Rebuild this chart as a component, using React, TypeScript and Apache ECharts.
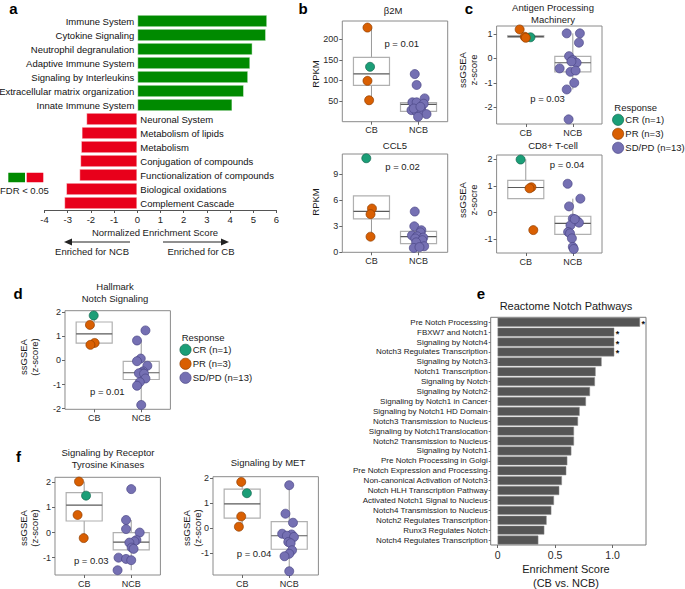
import React, { useEffect, useRef } from 'react';
import * as echarts from 'echarts';

const FONT = 'Liberation Sans, Arial, Helvetica, sans-serif';

// ---------- Panel a: GSEA ----------
const gseaPathways = [
  'Immune System', 'Cytokine Signaling', 'Neutrophil degranulation', 'Adaptive Immune System',
  'Signaling by Interleukins', 'Extracellular matrix organization', 'Innate Immune System',
  'Neuronal System', 'Metabolism of lipids', 'Metabolism', 'Conjugation of compounds',
  'Functionalization of compounds', 'Biological oxidations', 'Complement Cascade',
];
const gseaNES = [5.6, 5.55, 4.97, 4.87, 4.78, 4.6, 4.1, -2.2, -2.4, -2.43, -2.46, -2.5, -3.07, -3.15];

// ---------- Panel e: Reactome Notch ----------
const notchPathways = [
  'Pre Notch Processing', 'FBXW7 and Notch1', 'Signaling by Notch4', 'Notch3 Regulates Transcription',
  'Signaling by Notch3', 'Notch1 Transcription', 'Signaling by Notch', 'Signaling by Notch2',
  'Signaling by Notch1 in Cancer', 'Signaling by Notch1 HD Domain', 'Notch3 Transmission to Nucleus',
  'Signaling by Notch1Translocation', 'Notch2 Transmission to Nucleus', 'Signaling by Notch1',
  'Pre Notch Processing in Golgi', 'Pre Notch Expression and Processing', 'Non-canonical Activation of Notch3',
  'Notch HLH Transcription Pathway', 'Activated Notch1 Signal to Nucleus', 'Notch4 Transmission to Nucleus',
  'Notch2 Regulates Transcription', 'Runx3 Regulates Notch', 'Notch4 Regulates Transcription',
];
const notchES = [1.238, 1.014, 1.014, 1.014, 0.904, 0.852, 0.846, 0.803, 0.768, 0.713, 0.699, 0.664, 0.664,
  0.641, 0.606, 0.597, 0.559, 0.536, 0.49, 0.467, 0.426, 0.406, 0.354];
const notchSignificant = [true, true, true, true, false, false, false, false, false, false, false, false,
  false, false, false, false, false, false, false, false, false, false, false];
const notchTicks = [0, 0.5, 1];

// ---------- Box plots: [jitter x, value, response] ----------
const groupLabels = ['CB', 'NCB'];
const b2mPoints = [
  [0.915, 228, 'PR'], [0.97, 133, 'CR'], [0.915, 99, 'PR'], [0.95, 52, 'PR'],
  [1.92, 115.5, 'SD'], [1.96, 89, 'SD'], [1.87, 47, 'SD'], [1.96, 47, 'SD'], [2.13, 56.5, 'SD'],
  [2.11, 43.5, 'SD'], [1.85, 28, 'SD'], [1.96, 24, 'SD'], [2.06, 28, 'SD'], [2.17, 18.4, 'SD'],
  [1.99, 12, 'SD'], [1.9, 32, 'SD'], [2.04, 36, 'SD'],
];
const b2mBoxes = [[1, 52, 88, 116, 156, 228], [2, 12, 25, 42, 46, 56.5]];
const b2mTicks = [50, 100, 150, 200];

const ccl5Points = [
  [0.89, 10.85, 'CR'], [1.01, 5.05, 'PR'], [0.98, 4.4, 'PR'], [0.98, 1.8, 'PR'],
  [1.92, 4.7, 'SD'], [1.91, 3.0, 'SD'], [2.06, 2.55, 'SD'], [2.04, 2.3, 'SD'], [1.86, 1.95, 'SD'],
  [1.97, 1.85, 'SD'], [2.1, 1.7, 'SD'], [1.93, 1.6, 'SD'], [2.08, 1.4, 'SD'], [1.95, 1.15, 'SD'],
  [2.12, 0.7, 'SD'], [1.9, 0.5, 'SD'], [2.02, 0.6, 'SD'],
];
const ccl5Boxes = [[1, 1.8, 3.85, 4.73, 6.5, 6.5], [2, 0.5, 1.0, 1.8, 2.42, 3.0]];
const ccl5Ticks = [0, 3, 6, 9];

const apmPoints = [
  [0.87, 1.18, 'PR'], [0.98, 0.88, 'PR'], [1.0, 0.84, 'PR'], [1.1, 0.86, 'CR'],
  [1.87, 1.02, 'SD'], [2.15, 1.02, 'SD'], [2.13, 0.64, 'SD'], [1.92, 0.09, 'SD'], [2.0, -0.07, 'SD'],
  [2.08, -0.18, 'SD'], [1.97, -0.13, 'SD'], [1.72, -0.41, 'SD'], [1.95, -0.55, 'SD'], [2.06, -0.5, 'SD'],
  [2.03, -1.0, 'SD'], [1.87, -1.27, 'SD'], [1.91, -2.49, 'SD'],
];
const apmBoxes = [[1, 0.86, 0.86, 0.89, 0.93, 0.93], [2, -1.27, -0.55, -0.18, 0.08, 1.02]];
const apmTicks = [-2, -1, 0, 1];

const cd8Points = [
  [0.89, 1.99, 'CR'], [1.12, 0.95, 'PR'], [1.08, 0.91, 'PR'], [1.16, -0.66, 'PR'],
  [1.89, 1.08, 'SD'], [2.16, 0.52, 'SD'], [1.92, 0.23, 'SD'], [2.0, -0.23, 'SD'], [2.08, -0.3, 'SD'],
  [2.13, -0.38, 'SD'], [1.95, -0.48, 'SD'], [1.9, -0.73, 'SD'], [1.94, -0.78, 'SD'], [1.98, -0.97, 'SD'],
  [2.0, -1.29, 'SD'], [2.02, -1.37, 'SD'], [2.04, -0.25, 'SD'],
];
const cd8Boxes = [[1, 0.52, 0.52, 0.94, 1.21, 2.0], [2, -1.37, -0.82, -0.41, -0.14, 0.52]];
const cd8Ticks = [-1, 0, 1, 2];

const hallmarkPoints = [
  [0.99, 1.87, 'CR'], [0.91, 1.48, 'PR'], [1.01, 0.73, 'PR'], [0.92, 0.65, 'PR'],
  [2.09, 1.25, 'SD'], [1.91, 0.83, 'SD'], [1.99, 0.08, 'SD'], [1.91, -0.03, 'SD'], [2.13, -0.22, 'SD'],
  [2.04, -0.45, 'SD'], [2.02, -0.5, 'SD'], [1.95, -0.53, 'SD'], [2.06, -0.55, 'SD'], [2.09, -0.75, 'SD'],
  [1.97, -0.9, 'SD'], [1.91, -1.05, 'SD'], [2.0, -1.85, 'SD'],
];
const hallmarkBoxes = [[1, 0.65, 0.72, 1.11, 1.6, 1.87], [2, -1.85, -0.79, -0.51, -0.04, 0.85]];
const hallmarkTicks = [-2, -1, 0, 1, 2];

const rtkPoints = [
  [0.89, 2.03, 'PR'], [1.04, 1.47, 'CR'], [0.86, 0.7, 'PR'], [0.99, -0.22, 'PR'],
  [2.0, 1.73, 'SD'], [1.89, 0.5, 'SD'], [1.89, 0.14, 'SD'], [2.18, 0.0, 'SD'], [2.11, -0.3, 'SD'],
  [2.07, -0.35, 'SD'], [1.96, -0.4, 'SD'], [2.01, -0.6, 'SD'], [2.05, -0.65, 'SD'], [1.73, -1.0, 'SD'],
  [1.89, -1.05, 'SD'], [2.0, -1.1, 'SD'], [1.71, -1.5, 'SD'],
];
const rtkBoxes = [[1, -0.22, 0.46, 1.09, 1.59, 2.03], [2, -1.5, -0.69, -0.38, 0.0, 0.5]];
const rtkTicks = [-1, 0, 1, 2];

const metPoints = [
  [0.98, 1.85, 'PR'], [1.1, 1.4, 'CR'], [0.98, 0.47, 'PR'], [0.93, 0.06, 'PR'],
  [2.0, 1.72, 'SD'], [1.92, 0.58, 'SD'], [2.08, 0.22, 'SD'], [1.85, -0.22, 'SD'], [2.05, -0.25, 'SD'],
  [1.95, -0.3, 'SD'], [2.1, -0.35, 'SD'], [1.98, -0.55, 'SD'], [2.03, -0.6, 'SD'], [2.06, -0.88, 'SD'],
  [2.0, -1.02, 'SD'], [1.9, -1.12, 'SD'], [2.0, -1.72, 'SD'],
];
const metBoxes = [[1, 0.06, 0.4, 0.97, 1.56, 1.85], [2, -1.72, -0.84, -0.3, 0.26, 1.72]];
const metTicks = [-1, 0, 1, 2];

const responseKeys = ['CR', 'PR', 'SD'];
const responseLabels = ['CR (n=1)', 'PR (n=3)', 'SD/PD (n=13)'];

// ---------- styles / layout ----------
const GREEN = '#008a00';
const RED = '#e8001b';
const respColor: Record<string, string> = { CR: '#1b9e77', PR: '#d95f02', SD: '#7570b3' };
const respBorder: Record<string, string> = { CR: '#11664d', PR: '#8f3e00', SD: '#4a4685' };

const boxPlots = [
  { pts: b2mPoints, boxes: b2mBoxes, ticks: b2mTicks, left: 342.3, top: 21, width: 105.4, height: 100.7, yMin: 0, yMax: 244,
    title: 'β2M', tx: 393, ty: 10, ylab: 'RPKM', yx: 315.7, yy: 74, p: 'p = 0.01', px: 401.7, py: 43.3 },
  { pts: ccl5Points, boxes: ccl5Boxes, ticks: ccl5Ticks, left: 342.3, top: 154, width: 105.4, height: 98.3, yMin: 0, yMax: 11.34,
    title: 'CCL5', tx: 395, ty: 145, ylab: 'RPKM', yx: 315.7, yy: 202, p: 'p = 0.02', px: 402.5, py: 166.7 },
  { pts: apmPoints, boxes: apmBoxes, ticks: apmTicks, left: 496.6, top: 26, width: 105.4, height: 98, yMin: -2.68, yMax: 1.32,
    title: 'Antigen Processing\nMachinery', tx: 553, ty: 13.2, ylab: 'ssGSEA\nz-score', yx: 468, yy: 70, p: 'p = 0.03', px: 547.5, py: 98.3 },
  { pts: cd8Points, boxes: cd8Boxes, ticks: cd8Ticks, left: 496.6, top: 155, width: 105.4, height: 98, yMin: -1.52, yMax: 2.16,
    title: 'CD8+ T-cell', tx: 553, ty: 145.7, ylab: 'ssGSEA\nz-socre', yx: 468, yy: 200, p: 'p = 0.04', px: 567, py: 164.3 },
  { pts: hallmarkPoints, boxes: hallmarkBoxes, ticks: hallmarkTicks, left: 65, top: 310.7, width: 105.4, height: 98.6, yMin: -2.03, yMax: 2.07,
    title: 'Hallmark\nNotch Signaling', tx: 115, ty: 292.9, ylab: 'ssGSEA\n(z-score)', yx: 29, yy: 357, p: 'p = 0.01', px: 107.3, py: 391.7 },
  { pts: rtkPoints, boxes: rtkBoxes, ticks: rtkTicks, left: 55, top: 477.3, width: 105.4, height: 97.7, yMin: -1.69, yMax: 2.2,
    title: 'Signaling by Receptor\nTyrosine Kinases', tx: 108, ty: 458.7, ylab: 'ssGSEA\n(z-score)', yx: 28.5, yy: 528, p: 'p = 0.03', px: 91.2, py: 560 },
  { pts: metPoints, boxes: metBoxes, ticks: metTicks, left: 213, top: 476.7, width: 105.4, height: 98.3, yMin: -1.87, yMax: 2.06,
    title: 'Signaling by MET', tx: 268, ty: 462.3, ylab: 'ssGSEA\n(z-score)', yx: 191.5, yy: 528, p: 'p = 0.04', px: 254, py: 553.3 },
];

function txt(x: number, y: number, text: string, size: number, extra: any = {}) {
  return {
    type: 'text', x, y, silent: true, ...extra,
    style: {
      text, fontSize: size, fontFamily: FONT, fill: extra.fill || '#1a1a1a',
      fontWeight: extra.fontWeight || 'normal',
      align: extra.align || 'center', verticalAlign: 'middle',
      textAlign: extra.align || 'center', textVerticalAlign: 'middle',
      lineHeight: extra.lineHeight || size + 2,
    },
  };
}

function buildOption() {
  const grids: any[] = [];
  const xAxes: any[] = [];
  const yAxes: any[] = [];
  const series: any[] = [];
  const graphics: any[] = [];

  boxPlots.forEach((bp, gi) => {
    grids.push({ left: bp.left, top: bp.top, width: bp.width, height: bp.height, show: true,
      borderColor: '#8a8a8a', borderWidth: 1, backgroundColor: 'transparent' });
    xAxes.push({
      type: 'value', gridIndex: gi, min: 0.38, max: 2.62, position: 'bottom',
      axisLine: { show: false, onZero: false }, splitLine: { show: false },
      axisTick: { show: true, customValues: [1, 2], length: 3, lineStyle: { color: '#666' } },
      axisLabel: { customValues: [1, 2], formatter: (v: number) => groupLabels[Math.round(v) - 1] || '',
        fontSize: 9, color: '#2a2a2a', margin: 4, fontFamily: FONT },
    });
    yAxes.push({
      type: 'value', gridIndex: gi, min: bp.yMin, max: bp.yMax, position: 'left',
      axisLine: { show: false, onZero: false }, splitLine: { show: false },
      axisTick: { show: true, customValues: bp.ticks, length: 3, lineStyle: { color: '#666' } },
      axisLabel: { customValues: bp.ticks, fontSize: 9, color: '#2a2a2a', margin: 4, fontFamily: FONT },
    });
    series.push({
      type: 'custom', xAxisIndex: gi, yAxisIndex: gi, z: 2, silent: true,
      encode: { x: 0, y: [1, 2, 3, 4, 5] },
      data: bp.boxes,
      renderItem: (params: any, api: any) => {
        const x = api.value(0);
        const lo = api.value(1), q1 = api.value(2), med = api.value(3), q3 = api.value(4), hi = api.value(5);
        const half = 0.383;
        const pLo = api.coord([x, lo]);
        const pQ1 = api.coord([x, q1]);
        const pQ3 = api.coord([x, q3]);
        const pHi = api.coord([x, hi]);
        const tl = api.coord([x - half, q3]);
        const br = api.coord([x + half, q1]);
        const mL = api.coord([x - half, med]);
        const mR = api.coord([x + half, med]);
        const children: any[] = [];
        if (q1 > lo) children.push({ type: 'line', shape: { x1: pLo[0], y1: pLo[1], x2: pQ1[0], y2: pQ1[1] }, style: { stroke: '#9a9a9a', lineWidth: 1 } });
        if (hi > q3) children.push({ type: 'line', shape: { x1: pQ3[0], y1: pQ3[1], x2: pHi[0], y2: pHi[1] }, style: { stroke: '#9a9a9a', lineWidth: 1 } });
        children.push({ type: 'rect', shape: { x: tl[0], y: tl[1], width: br[0] - tl[0], height: br[1] - tl[1] },
          style: { fill: 'rgba(255,255,255,0)', stroke: '#b0b0b0', lineWidth: 1.2 } });
        children.push({ type: 'line', shape: { x1: mL[0], y1: mL[1], x2: mR[0], y2: mR[1] }, style: { stroke: '#5a5a5a', lineWidth: 1.2 } });
        return { type: 'group', children };
      },
    });
    responseKeys.forEach((rk) => {
      series.push({
        type: 'scatter', xAxisIndex: gi, yAxisIndex: gi, z: 5, symbolSize: 9,
        itemStyle: { color: respColor[rk], borderColor: respBorder[rk], borderWidth: 0.7, opacity: 1 },
        data: bp.pts.filter((p: any) => p[2] === rk).map((p: any) => [p[0], p[1]]),
      });
    });
    graphics.push(txt(bp.tx, bp.ty, bp.title, 9.5, { lineHeight: 12 }));
    graphics.push(txt(bp.yx, bp.yy, bp.ylab, 9.5, { rotation: Math.PI / 2, lineHeight: 11 }));
    graphics.push(txt(bp.px, bp.py, bp.p, 9.5));
  });

  // Panel a
  const ia = grids.length;
  grids.push({ left: 44.5, top: 14, width: 232, height: 196 });
  xAxes.push({
    type: 'value', gridIndex: ia, min: -4, max: 6, interval: 1,
    axisLine: { show: true, onZero: false, lineStyle: { color: '#555' } },
    axisTick: { show: true, length: 3, lineStyle: { color: '#555' } },
    axisLabel: { fontSize: 9.5, color: '#222', margin: 4, fontFamily: FONT },
    splitLine: { show: false },
  });
  yAxes.push({ type: 'category', gridIndex: ia, data: gseaPathways, inverse: true, show: false });
  series.push({
    type: 'bar', xAxisIndex: ia, yAxisIndex: ia, barCategoryGap: '12%',
    itemStyle: { borderColor: 'rgba(255,255,255,0.45)', borderWidth: 1 },
    label: { show: true, formatter: (p: any) => p.name, fontSize: 9.5, color: '#111', distance: 3, fontFamily: FONT },
    data: gseaNES.map((v) => ({
      value: v,
      itemStyle: { color: v > 0 ? GREEN : RED },
      label: { position: v > 0 ? 'left' : 'right' },
    })),
  });

  // Panel e
  const ie = grids.length;
  grids.push({ left: 490.7, top: 317.3, width: 155.3, height: 227.7, show: true, borderColor: '#7a7a7a', borderWidth: 1,
    backgroundColor: 'transparent' });
  xAxes.push({
    type: 'value', gridIndex: ie, min: -0.06, max: 1.29,
    axisLine: { show: false, onZero: false }, splitLine: { show: false },
    axisTick: { show: true, customValues: notchTicks, length: 3, lineStyle: { color: '#666' } },
    axisLabel: { customValues: notchTicks, formatter: (v: number) => (v === 0 ? '0' : v.toFixed(1)),
      fontSize: 10.5, color: '#2a2a2a', margin: 4, fontFamily: FONT },
  });
  yAxes.push({
    type: 'category', gridIndex: ie, data: notchPathways, inverse: true,
    axisLine: { show: false, onZero: false },
    axisTick: { show: true, length: 2, alignWithLabel: true, interval: 0, lineStyle: { color: '#777' } },
    axisLabel: { interval: 0, fontSize: 8, color: '#1a1a1a', margin: 3, fontFamily: FONT },
  });
  series.push({
    type: 'bar', xAxisIndex: ie, yAxisIndex: ie, barCategoryGap: '10%',
    itemStyle: { color: '#555555', borderColor: '#8c8c8c', borderWidth: 0.5 },
    label: { show: false, position: 'right', distance: 1.5, formatter: '*', fontSize: 9, lineHeight: 9, fontWeight: 'bold', color: '#111',
      fontFamily: FONT, offset: [0, 1.5] },
    data: notchES.map((v, i) => ({ value: v, label: { show: notchSignificant[i] } })),
  });

  // panel letters
  const letter = (x: number, y: number, t: string) => txt(x, y, t, 15, { fontWeight: 'bold', fill: '#000', lineHeight: 15 });
  graphics.push(letter(13.5, 8, 'a'));
  graphics.push(letter(303, 8, 'b'));
  graphics.push(letter(469, 8, 'c'));
  graphics.push(letter(18, 293.5, 'd'));
  graphics.push(letter(481, 293.5, 'e'));
  graphics.push(letter(18.5, 456, 'f'));

  // panel a extras
  graphics.push(txt(155, 232, 'Normalized Enrichment Score', 9.5));
  graphics.push(txt(92, 251, 'Enriched for NCB', 9.5));
  graphics.push(txt(201, 251, 'Enriched for CB', 9.5));
  graphics.push({ type: 'line', silent: true, shape: { x1: 130, y1: 242, x2: 70, y2: 242 }, style: { stroke: '#222', lineWidth: 1.2 } });
  graphics.push({ type: 'polygon', silent: true, shape: { points: [[64, 242], [72, 238.5], [72, 245.5]] }, style: { fill: '#222' } });
  graphics.push({ type: 'line', silent: true, shape: { x1: 163, y1: 242, x2: 222, y2: 242 }, style: { stroke: '#222', lineWidth: 1.2 } });
  graphics.push({ type: 'polygon', silent: true, shape: { points: [[229, 242], [221, 238.5], [221, 245.5]] }, style: { fill: '#222' } });
  graphics.push({ type: 'rect', silent: true, shape: { x: 8.3, y: 172.7, width: 16.7, height: 9.6 }, style: { fill: GREEN } });
  graphics.push({ type: 'rect', silent: true, shape: { x: 26.7, y: 172.7, width: 16.6, height: 9.6 }, style: { fill: RED } });
  graphics.push(txt(0, 190, 'FDR < 0.05', 9.5, { align: 'left' }));

  // panel e extras
  graphics.push(txt(566, 305.7, 'Reactome Notch Pathways', 11));
  graphics.push(txt(566, 569.3, 'Enrichment Score', 11));
  graphics.push(txt(566, 583.3, '(CB vs. NCB)', 11));

  // response legends
  const legends = [
    { x: 614.3, y: 107.3 },
    { x: 181.7, y: 337.3 },
  ];
  legends.forEach((lg) => {
    graphics.push(txt(lg.x, lg.y, 'Response', 9.5, { align: 'left' }));
    responseKeys.forEach((rk, i) => {
      const cy = lg.y + 12.5 + i * 14;
      graphics.push({ type: 'circle', silent: true, shape: { cx: lg.x + 3.8, cy, r: 5.6 },
        style: { fill: respColor[rk], stroke: respBorder[rk], lineWidth: 0.7 } });
      graphics.push(txt(lg.x + 11, cy, responseLabels[i], 9.5, { align: 'left' }));
    });
  });

  return {
    animation: false,
    backgroundColor: '#ffffff',
    textStyle: { fontFamily: FONT },
    grid: grids,
    xAxis: xAxes,
    yAxis: yAxes,
    series,
    graphic: graphics,
  };
}

export default function App() {
  const ref = useRef<HTMLDivElement>(null);
  useEffect(() => {
    if (!ref.current) return;
    const chart = echarts.init(ref.current, undefined, { renderer: 'svg' });
    chart.setOption(buildOption() as any);
    return () => chart.dispose();
  }, []);
  return (
    <div
      ref={ref}
      style={{ position: 'absolute', left: 0, top: 0, width: 685, height: 589, background: '#fff' }}
    />
  );
}
